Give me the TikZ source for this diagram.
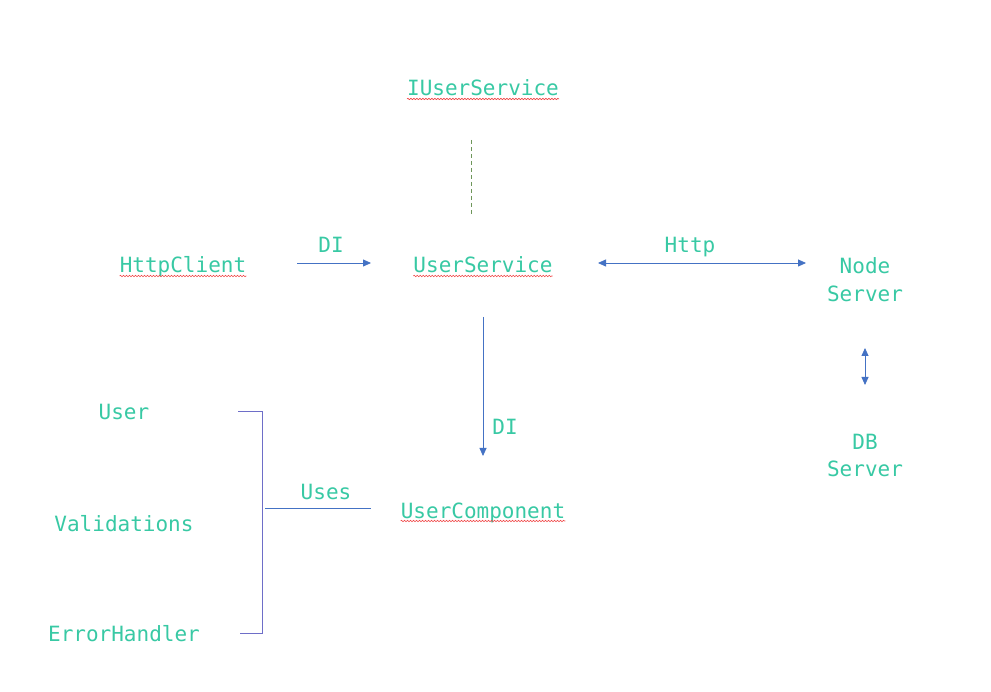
\documentclass[tikz,border=0pt]{standalone}
\usepackage{fontspec}
\setmonofont{DejaVu Sans Mono}
\usetikzlibrary{arrows.meta,decorations.pathmorphing}
\definecolor{txt}{RGB}{56,201,164}
\definecolor{arr}{RGB}{68,114,196}
\definecolor{brk}{RGB}{110,110,200}
\definecolor{dsh}{RGB}{110,150,90}
\definecolor{wav}{RGB}{240,70,70}
\tikzset{
  lbl/.style={text=txt,inner sep=0pt,anchor=base,font=\ttfamily\fontsize{21}{28}\selectfont,align=center},
  conn/.style={draw=arr,line width=0.8pt},
  tip/.style={-{Triangle[length=8pt,width=7pt]}},
  dtip/.style={{Triangle[length=8pt,width=7pt]}-{Triangle[length=8pt,width=7pt]}},
  wavy/.style={draw=wav,line width=0.6pt,decorate,decoration={snake,amplitude=0.7pt,segment length=3pt}},
  bracket/.style={draw=brk,line width=0.9pt},
  dashln/.style={draw=dsh,line width=0.7pt,dash pattern=on 4pt off 3pt}
}
\begin{document}
\begin{tikzpicture}[x=1pt,y=-1pt]
\useasboundingbox[fill=white] (0,0) rectangle (991,692);
% labels
\node[lbl] (ius) at (483,96) {IUserService};
\node[lbl] (hc) at (183,273) {HttpClient};
\node[lbl] (us) at (483,273) {UserService};
\node[lbl] (ns) at (865,302) {Node\\Server};
\node[lbl] (db) at (865,477) {DB\\Server};
\node[lbl] (uc) at (483,518) {UserComponent};
\node[lbl] (user) at (124,420) {User};
\node[lbl] (val) at (124,531) {Validations};
\node[lbl] (err) at (124,641) {ErrorHandler};
\node[lbl] (di1) at (331,253) {DI};
\node[lbl] (http) at (690,253) {Http};
\node[lbl] (di2) at (505,435) {DI};
\node[lbl] (uses) at (326,499) {Uses};
% spell-check underlines
\foreach \n in {ius,hc,us,uc}{
  \draw[wavy] ([yshift=-3pt]\n.base west) -- ([yshift=-3pt]\n.base east);
}
% connector end points
\coordinate (d1) at (471,140);
\coordinate (d2) at (471,216);
\coordinate (a1) at (297,263);
\coordinate (a2) at (371,263);
\coordinate (h1) at (598,263);
\coordinate (h2) at (806,263);
\coordinate (v1) at (865,348);
\coordinate (v2) at (865,385);
\coordinate (c1) at (483,317);
\coordinate (c2) at (483,456);
\coordinate (b1) at (238,411);
\coordinate (b2) at (262,411);
\coordinate (b3) at (262,633);
\coordinate (b4) at (240,633);
\coordinate (u1) at (265,508);
\coordinate (u2) at (371,508);
% connectors
\draw[dashln] (d1) -- (d2);
\draw[conn,tip] (a1) -- (a2);
\draw[conn,dtip] (h1) -- (h2);
\draw[conn,dtip] (v1) -- (v2);
\draw[conn,tip] (c1) -- (c2);
\draw[bracket] (b1) -- (b2) -- (b3) -- (b4);
\draw[conn] (u1) -- (u2);
\end{tikzpicture}
\end{document}
